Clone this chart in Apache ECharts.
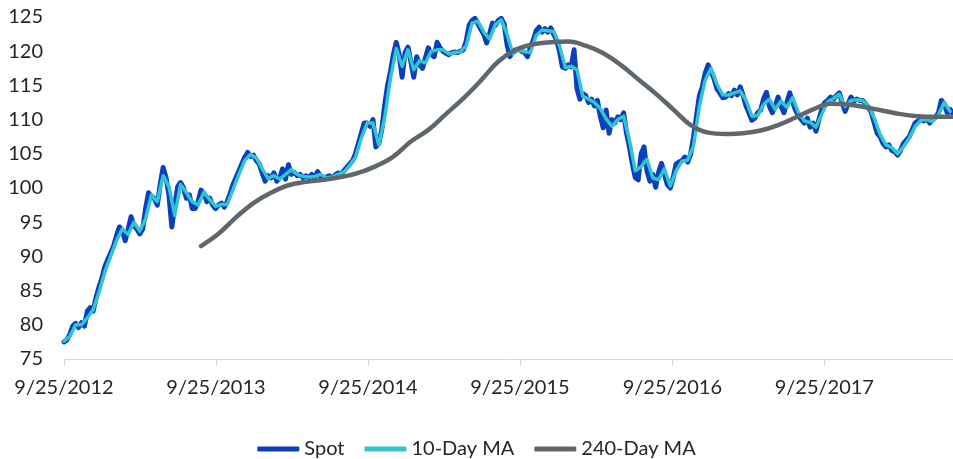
<!DOCTYPE html>
<html>
<head>
<meta charset="utf-8">
<script src="https://cdn.jsdelivr.net/npm/echarts@6/dist/echarts.min.js"></script>
<style>
  html, body { margin: 0; padding: 0; background: #fff; }
  #chart { width: 953px; height: 459px; }
</style>
</head>
<body>
<div id="chart"></div>
<script>
// weekly closes from 9/25/2012
var spot = [
  77.5, 77.8, 78.6, 79.8, 80.2, 79.6, 80.3, 79.8, 82.0, 82.5,
  82.0, 84.0, 85.5, 86.8, 88.5, 89.5, 90.5, 91.5, 93.0, 94.3,
  93.8, 92.3, 94.0, 95.8, 94.5, 94.0, 93.3, 94.0, 97.0, 99.3,
  98.8, 98.5, 97.5, 100.5, 103.0, 101.5, 99.0, 94.3, 97.5, 100.2,
  100.8, 100.0, 98.5, 99.0, 97.0, 97.0, 98.0, 99.7, 99.2, 98.0,
  98.5, 97.5,
  97.0, 97.5, 97.8, 97.2, 98.0, 99.2, 100.5, 101.5, 102.5, 103.5,
  104.5, 105.2, 104.6, 104.8, 104.0, 103.5, 102.2, 101.0, 101.8, 101.5,
  102.2, 101.0, 101.5, 102.8, 101.3, 103.4, 102.0, 102.3, 101.8, 102.0,
  101.5, 101.8, 101.5, 102.0, 101.5, 102.4, 101.7, 101.3, 101.6, 101.8,
  101.5, 101.9, 102.2, 102.0, 102.5, 103.0, 103.5, 104.0, 105.0, 106.5,
  108.0, 109.5,
  109.5, 109.0, 110.0, 106.0, 106.5, 108.5, 112.0, 115.0, 117.0, 119.5,
  121.3, 119.5, 116.2, 119.8, 120.6, 118.5, 116.2, 119.2, 118.0, 117.5,
  119.0, 120.5, 119.5, 119.2, 121.3, 120.5, 120.0, 119.7, 119.5, 119.8,
  119.9, 119.8, 120.0, 120.2, 121.5, 123.8, 124.5, 124.8, 124.0, 123.2,
  122.5, 121.2, 122.5, 124.1, 123.8, 124.5, 124.8, 124.0, 121.0, 119.2,
  120.0, 120.2,
  120.3, 120.0, 119.8, 119.2, 120.5, 121.6, 123.0, 123.5, 122.8, 123.3,
  122.8, 123.4, 122.5, 121.6, 120.0, 117.7, 117.5, 118.0, 117.7, 120.2,
  114.5, 113.0, 113.8, 113.5, 112.5, 113.0, 112.0, 112.8, 110.5, 108.8,
  111.4, 108.0, 110.0, 109.5, 110.4, 110.0, 111.0, 108.0, 106.0, 103.5,
  101.5, 101.2, 105.0, 106.0, 102.5, 101.0, 102.0, 100.1, 102.3, 103.6,
  102.0, 100.5,
  100.0, 101.5, 103.5, 103.8, 104.0, 104.5, 103.8, 105.0, 107.5, 110.5,
  113.5, 114.8, 116.8, 118.0, 117.0, 116.0, 114.5, 113.9, 113.2, 113.3,
  113.8, 113.5, 114.3, 113.6, 114.8, 113.5, 112.0, 111.0, 109.9, 110.2,
  111.0, 111.4, 113.0, 114.0, 112.0, 111.0, 112.0, 113.3, 112.0, 111.0,
  112.5, 113.9, 112.5, 111.4, 110.5, 110.0, 109.5, 110.2, 108.9, 109.5,
  108.3, 110.0,
  111.5, 112.5, 112.8, 113.3, 113.0, 113.5, 113.9, 112.5, 111.2, 112.3,
  113.3, 112.7, 113.0, 112.8, 112.8, 112.3, 111.8, 111.0, 109.5, 108.0,
  107.5, 106.5, 106.0, 106.3, 105.5, 105.3, 104.8, 105.5, 106.5, 107.0,
  107.5, 108.5, 109.5, 109.8, 110.0, 109.8, 110.2, 109.5, 110.0, 110.3,
  111.0, 112.8, 112.3, 111.0, 111.5, 110.8
];

// every 2 weeks from 9/25/2012
var ma10 = [
  77.6, 78.3, 80.0, 80.0, 81.0, 82.2, 84.8, 87.7, 90.0, 92.3, 94.0, 93.2, 95.0,
  93.7, 95.5, 99.0, 98.0, 101.8, 100.2, 96.0, 100.5, 99.3, 98.0, 97.5, 99.4, 98.3,
  97.3, 97.6, 97.6, 99.8, 102.0, 104.0, 104.9, 104.4, 102.8, 101.4, 101.8, 101.3, 102.0,
  102.7, 102.0, 101.7, 101.6, 101.7, 102.0, 101.5, 101.6, 102.0, 102.3, 103.3, 104.5, 107.3,
  109.5, 109.5, 106.3, 110.2, 116.0, 120.4, 117.8, 120.2, 117.3, 118.6, 118.3, 120.0, 120.2,
  120.2, 119.6, 119.8, 119.9, 120.8, 124.1, 124.4, 122.8, 121.8, 123.9, 124.6, 122.5, 119.6,
  120.2, 119.9, 119.8, 122.3, 123.1, 123.0, 122.9, 120.8, 117.6, 117.8, 117.3, 113.4, 113.0,
  112.5, 111.6, 110.1, 109.0, 110.0, 110.5, 107.0, 102.5, 103.1, 104.2, 101.5, 101.2, 102.8,
  100.3, 102.5, 103.9, 104.1, 106.2, 112.0, 115.8, 117.5, 115.2, 113.6, 113.6, 113.9, 114.2,
  112.8, 110.5, 110.6, 112.2, 113.0, 111.5, 112.7, 111.8, 113.2, 111.0, 109.8, 109.6, 108.9,
  110.8, 112.6, 113.1, 113.7, 111.9, 112.8, 112.9, 112.8, 112.0, 110.2, 107.8, 106.3,
  105.9, 105.0, 106.0, 107.3, 109.0, 109.9, 110.0, 109.7, 110.7, 112.5, 111.2
];

// every 6 weeks, starting week 47
var ma240 = [
  91.5, 93.3, 95.7, 97.8, 99.3, 100.4, 100.9, 101.2, 101.6, 102.2,
  103.2, 104.6, 106.8, 108.5, 110.8, 113.1, 115.7, 118.5, 120.2, 121.0,
  121.3, 121.4, 120.8, 119.7, 118.0, 115.9, 113.8, 111.5, 109.2, 108.1,
  107.9, 108.0, 108.4, 109.2, 110.3, 111.5, 112.3, 112.2, 111.8, 111.3,
  110.8, 110.5, 110.4, 110.4
];

var tickLabels = ['9/25/2012', '9/25/2013', '9/25/2014', '9/25/2015', '9/25/2016', '9/25/2017'];

var DAY = 86400000;
var start = Date.UTC(2012, 8, 25);

function toPairs(values, firstWeek, stepWeeks) {
    return values.map(function (v, i) {
        return [start + (firstWeek + i * stepWeeks) * 7 * DAY, v];
    });
}

var tickTimes = tickLabels.map(function (s) {
    var p = s.split('/');
    return Date.UTC(+p[2], +p[0] - 1, +p[1]);
});

function fmt(v) {
    var d = new Date(v);
    return (d.getUTCMonth() + 1) + '/' + d.getUTCDate() + '/' + d.getUTCFullYear();
}

var font = 'Lato';
var textColor = '#262626';
var chart = echarts.init(document.getElementById('chart'));
chart.setOption({
    animation: false,
    grid: { left: 64, right: 0, top: 17, bottom: 100 },
    legend: {
        top: 434,
        left: 'center',
        icon: 'roundRect',
        itemWidth: 42,
        itemHeight: 5,
        itemGap: 20,
        textStyle: { fontFamily: font, fontSize: 20, color: textColor },
        data: ['Spot', '10-Day MA', '240-Day MA']
    },
    xAxis: {
        type: 'value',
        min: start,
        max: start + 305 * 7 * DAY,
        axisLine: { lineStyle: { color: '#d9d9d9', width: 1 } },
        axisTick: { show: true, length: 7, lineStyle: { color: '#d9d9d9' }, customValues: tickTimes },
        axisLabel: {
            customValues: tickTimes,
            formatter: fmt,
            margin: 19,
            fontFamily: font,
            fontSize: 20,
            color: textColor
        },
        splitLine: { show: false }
    },
    yAxis: {
        type: 'value',
        min: 75,
        max: 125,
        interval: 5,
        axisLine: { show: false },
        axisTick: { show: false },
        splitLine: { show: false },
        axisLabel: { margin: 21, fontFamily: font, fontSize: 20, color: textColor }
    },
    series: [
        {
            name: 'Spot',
            type: 'line',
            data: toPairs(spot, 0, 1),
            showSymbol: false,
            itemStyle: { color: '#0b3fbb' },
            lineStyle: { color: '#0b3fbb', width: 5, cap: 'round', join: 'round' }
        },
        {
            name: '10-Day MA',
            type: 'line',
            data: toPairs(ma10, 0, 2),
            showSymbol: false,
            itemStyle: { color: '#2fc6cf' },
            lineStyle: { color: '#2fc6cf', width: 3.5, cap: 'round', join: 'round' }
        },
        {
            name: '240-Day MA',
            type: 'line',
            data: toPairs(ma240, 47, 6),
            showSymbol: false,
            smooth: 0.4,
            itemStyle: { color: '#5f676c' },
            lineStyle: { color: '#5f676c', width: 4.5, cap: 'round', join: 'round' }
        }
    ]
});
</script>
</body>
</html>
